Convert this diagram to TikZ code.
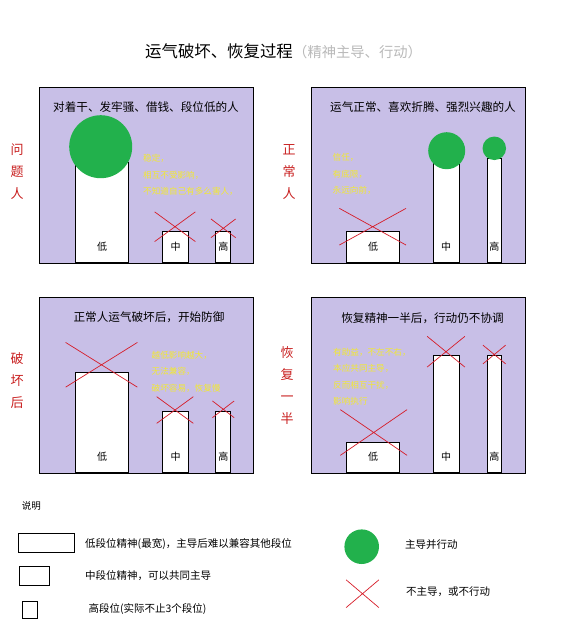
\documentclass[tikz,border=0pt]{standalone}
\usepackage{fontspec}
\setmainfont{Noto Sans CJK SC}
\usepackage{xcolor}
\usepackage{tikz}
\usetikzlibrary{shapes, positioning}

\definecolor{lavender}{RGB}{200,191,231}
\definecolor{paintgreen}{RGB}{34,177,76}
\definecolor{paintred}{RGB}{214,28,40}
\definecolor{noteyellow}{RGB}{242,232,50}
\definecolor{sidered}{RGB}{200,30,30}
\definecolor{softgray}{RGB}{185,185,185}

\begin{document}
\begin{tikzpicture}[x=1pt, y=-1pt]
        % Styles
        \tikzstyle{panel} = [draw, line width=0.8pt, fill=lavender, minimum width=214, minimum height=176, anchor=north west, inner sep=0]
        \tikzstyle{bar} = [draw, line width=0.8pt, fill=white, anchor=south, inner sep=0]
        \tikzstyle{dot} = [circle, fill=paintgreen, inner sep=0]
        \tikzstyle{nope} = [cross out, draw=paintred, line width=0.7pt, inner sep=0]
        \tikzstyle{heading} = [font=\fontsize{11.6}{14}\selectfont, inner sep=0]
        \tikzstyle{note} = [font=\fontsize{8.6}{16.3}\selectfont, text=noteyellow, align=left, anchor=north west, inner sep=0]
        \tikzstyle{side} = [font=\fontsize{13}{22}\selectfont, text=sidered, align=center, inner sep=0]
        \tikzstyle{level} = [font=\fontsize{10}{12}\selectfont, inner sep=0]
        \tikzstyle{legend} = [font=\fontsize{10.5}{12}\selectfont, anchor=west, inner sep=0]
        \tikzstyle{key} = [draw, line width=0.8pt, anchor=north west, inner sep=0]

        \useasboundingbox (0,0) rectangle (572,640);

        % Title
        \node [inner sep=0, font=\fontsize{16.4}{18}\selectfont] (title) at (219,51.7) {运气破坏、恢复过程};
        \node [right=0pt of title, inner sep=0, text=softgray, font=\fontsize{14.3}{16}\selectfont] (subtitle) {（精神主导、行动）};

        % Panels
        \node [panel] (p1) at (39,87) {};
        \node [panel] (p2) at (311,87) {};
        \node [panel] (p3) at (39,297) {};
        \node [panel] (p4) at (311,297) {};

        \node [heading] (t1) at (146,107) {对着干、发牢骚、借钱、段位低的人};
        \node [heading] (t2) at (423,107) {运气正常、喜欢折腾、强烈兴趣的人};
        \node [heading] (t3) at (149,317) {正常人运气破坏后，开始防御};
        \node [heading] (t4) at (422.5,318) {恢复精神一半后，行动仍不协调};

        \node [side] (s1) at (17,172) {问\\题\\人};
        \node [side] (s2) at (289,172) {正\\常\\人};
        \node [side] (s3) at (17,381) {破\\坏\\后};
        \node [side] (s4) at (287,386) {恢\\复\\一\\半};

        % Panel 1
        \node [bar, minimum width=53, minimum height=100] (low1) at (102,263) {};
        \node [bar, minimum width=26, minimum height=31] (mid1) at (175.5,263) {};
        \node [bar, minimum width=15, minimum height=31] (high1) at (223.3,263) {};
        \node [dot, minimum size=63] (lead1) at (100.7,146.7) {};
        \node [nope, minimum width=40, minimum height=29] (x1m) at (175,226.7) {};
        \node [nope, minimum width=24, minimum height=18] (x1h) at (223.3,228.3) {};
        \node [note] (n1) at (143,154.5) {稳定，\\相互不受影响，\\不知道自己有多么害人，};

        % Panel 2
        \node [bar, minimum width=53, minimum height=31] (low2) at (373,263) {};
        \node [bar, minimum width=26, minimum height=100] (mid2) at (446,263) {};
        \node [bar, minimum width=14, minimum height=104] (high2) at (494.3,263) {};
        \node [dot, minimum size=37] (lead2m) at (446.7,150.7) {};
        \node [dot, minimum size=23.5] (lead2h) at (494.3,148.3) {};
        \node [nope, minimum width=66, minimum height=36] (x2l) at (372.7,226.7) {};
        \node [note] (n2) at (332.5,153.5) {信任，\\有底限，\\永远向前，};

        % Panel 3
        \node [bar, minimum width=53, minimum height=100] (low3) at (102,473) {};
        \node [bar, minimum width=26, minimum height=61] (mid3) at (175.5,473) {};
        \node [bar, minimum width=15, minimum height=61] (high3) at (223.3,473) {};
        \node [nope, minimum width=71, minimum height=44] (x3l) at (101.5,364.8) {};
        \node [nope, minimum width=36, minimum height=26] (x3m) at (175,410) {};
        \node [nope, minimum width=21, minimum height=16] (x3h) at (223.3,409.3) {};
        \node [note] (n3) at (151.5,351.2) {越低影响越大，\\无法兼容，\\破坏容易，恢复慢};

        % Panel 4
        \node [bar, minimum width=53, minimum height=30] (low4) at (373,473) {};
        \node [bar, minimum width=26, minimum height=117] (mid4) at (446,473) {};
        \node [bar, minimum width=14, minimum height=117] (high4) at (494.3,473) {};
        \node [nope, minimum width=66, minimum height=45] (x4l) at (373.7,432.5) {};
        \node [nope, minimum width=37, minimum height=30] (x4m) at (446,351.7) {};
        \node [nope, minimum width=22, minimum height=18] (x4h) at (494.3,354.5) {};
        \node [note] (n4) at (333,348) {有助益，不左不右，\\本应共同主导，\\反而相互干扰，\\影响执行};

        % Bar labels
        \node [level] at ([yshift=16.5pt]low1.south) {低};
        \node [level] at ([yshift=16.5pt]mid1.south) {中};
        \node [level] at ([yshift=16.5pt]high1.south) {高};
        \node [level] at ([yshift=16.5pt]low2.south) {低};
        \node [level] at ([yshift=16.5pt]mid2.south) {中};
        \node [level] at ([yshift=16.5pt]high2.south) {高};
        \node [level] at ([yshift=16.5pt]low3.south) {低};
        \node [level] at ([yshift=16.5pt]mid3.south) {中};
        \node [level] at ([yshift=16.5pt]high3.south) {高};
        \node [level] at ([yshift=16.5pt]low4.south) {低};
        \node [level] at ([yshift=16.5pt]mid4.south) {中};
        \node [level] at ([yshift=16.5pt]high4.south) {高};

        % Legend
        \node [legend, font=\fontsize{9.5}{12}\selectfont] (legtitle) at (21.7,506) {说明};
        \node [key, minimum width=55.7, minimum height=19] (keylow) at (18.3,532.7) {};
        \node [key, minimum width=29.7, minimum height=19] (keymid) at (19.3,566) {};
        \node [key, minimum width=15, minimum height=16.7] (keyhigh) at (21.7,601) {};
        \node [legend] (txtlow) at (85,544) {低段位精神(最宽)，主导后难以兼容其他段位};
        \node [legend] (txtmid) at (85,576) {中段位精神，可以共同主导};
        \node [legend] (txthigh) at (88.3,609) {高段位(实际不止3个段位)};
        \node [dot, minimum size=34.6] (keydot) at (361.7,546.7) {};
        \node [nope, minimum width=32, minimum height=27] (keycross) at (362.5,593.7) {};
        \node [legend] (txtdot) at (405,544.3) {主导并行动};
        \node [legend] (txtcross) at (406,591.7) {不主导，或不行动};
    \end{tikzpicture}
\end{document}
